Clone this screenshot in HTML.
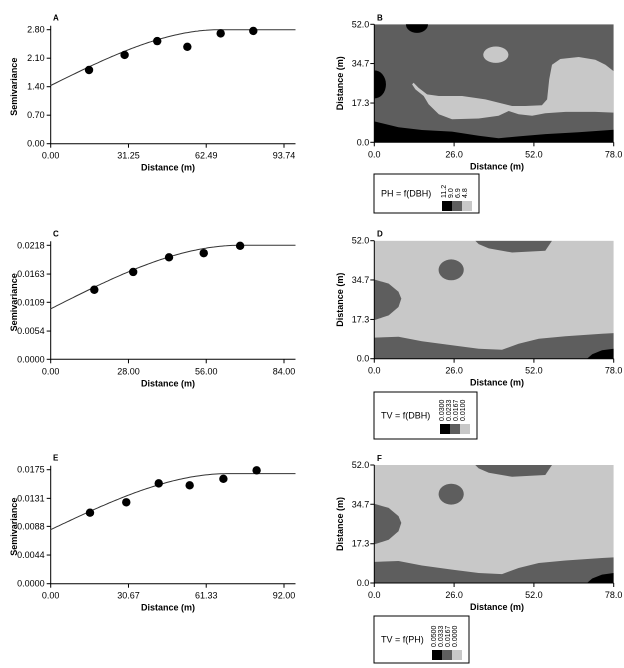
<!DOCTYPE html>
<html><head><meta charset="utf-8">
<style>
html,body{margin:0;padding:0;background:#fff;}
svg{display:block;font-family:"Liberation Sans Narrow","Liberation Sans",sans-serif;}
</style></head>
<body>
<svg id="fig" width="624" height="668" viewBox="0 0 624 668" xmlns="http://www.w3.org/2000/svg"></svg>
<script>
// ---- Variogram data ----
const aDist = [15.4, 29.7, 42.8, 54.9, 68.3, 81.4];
const aVals = [1.81, 2.18, 2.52, 2.38, 2.71, 2.77];
const aTicksX = ["0.00","31.25","62.49","93.74"];
const aTicksY = ["0.00","0.70","1.40","2.10","2.80"];
const aModel = [1.43, 2.80, 68];   // nugget, sill, range

const cDist = [15.7, 29.7, 42.6, 55.1, 68.2];
const cVals = [0.0133, 0.0167, 0.0195, 0.0203, 0.0217];
const cTicksX = ["0.00","28.00","56.00","84.00"];
const cTicksY = ["0.0000","0.0054","0.0109","0.0163","0.0218"];
const cModel = [0.00965, 0.0218, 68];

const eDist = [15.5, 29.8, 42.6, 54.8, 68.1, 81.2];
const eVals = [0.0109, 0.0125, 0.0154, 0.0151, 0.0161, 0.0174];
const eTicksX = ["0.00","30.67","61.33","92.00"];
const eTicksY = ["0.0000","0.0044","0.0088","0.0131","0.0175"];
const eModel = [0.0083, 0.0169, 70];

// ---- Map data (x 0..78 m, y 0..52 m) ----
const mapTicksX = ["0.0","26.0","52.0","78.0"];
const mapTicksY = ["0.0","17.3","34.7","52.0"];
const bBlackBottom = [[0,9.2],[7.9,6.6],[15.5,5.4],[25.3,4.7],[34,2.9],[40.5,1.75],[47,2.6],[55.7,3.6],[66.5,4.4],[78,5.5],[78,0],[0,0]];
const bLightBig = [[12.8,26.2],[14.4,24.0],[17.2,21.1],[21.0,20.4],[28.6,20.4],[36.2,18.9],[44.9,16.0],[49.2,16.0],[54.6,16.3],[56.3,18.9],[57.0,27.7],[57.9,34.2],[60.6,36.7],[66.6,37.6],[72.0,36.4],[75.3,34.2],[78,31.3],[78,13.1],[72.0,13.4],[62.3,13.4],[55.7,12.8],[51.4,11.7],[47.0,12.4],[43.8,13.8],[40.5,11.7],[34.0,10.5],[25.3,10.2],[21.0,12.4],[17.7,16.8],[16.1,20.4],[13.4,23.3],[12.3,25.5]];
const bEllipses = [[13.9,52,3.6,3.8,"#000"],[0,25.5,3.8,6.2,"#000"],[39.6,38.6,4.1,3.6,"#c8c8c8"]];
const dDarkBottom = [[0,9.3],[7.9,9.7],[15.5,7.7],[25.3,5.9],[34,4.4],[41.6,3.9],[47,6.6],[53.6,8.8],[62.3,9.9],[74.2,11.0],[78,11.3],[78,0],[0,0]];
const dBlackCorner = [[69.3,0],[71,2],[74.2,3.7],[78,4.4],[78,0]];
const dDarkLeft = [[0,34.9],[4.7,33.1],[7.9,29.5],[8.8,26.5],[7.9,22.8],[4.7,19.1],[0,17]];
const dDarkBlob = [25.05, 39.15, 4.1, 4.6];
const dDarkTop = [[32.9,52],[57.9,52],[55.7,47.6],[44.9,46.8],[37.3,48.6],[34,50.5]];

const legB = ["11.2","9.0","6.9","4.8"];
const legD = ["0.0300","0.0233","0.0167","0.0100"];
const legF = ["0.0500","0.0333","0.0167","0.0000"];

const NS = "http://www.w3.org/2000/svg";
const svg = document.getElementById("fig");
function mk(tag, attrs, parent, text){
  const el = document.createElementNS(NS, tag);
  for (const k in attrs) el.setAttribute(k, attrs[k]);
  if (text !== undefined) el.textContent = text;
  (parent || svg).appendChild(el);
  return el;
}
function linScale(d0,d1,r0,r1){ return v => r0 + (v-d0)/(d1-d0)*(r1-r0); }

function variogram(id, letter, dist, vals, ticksX, ticksY, model, top){
  const g = mk("g", {});
  
  
  const x0 = 50.7, x1 = 284, xEnd = 295.5, yTop = top, yBot = top + 114;
  const xmax = parseFloat(ticksX[ticksX.length-1]);
  const ymax = parseFloat(ticksY[ticksY.length-1]);
  const sx = linScale(0, xmax, x0, x1), sy = linScale(0, ymax, yBot, yTop);
  const ax = mk("path", {d:`M${x0},${yTop-4}V${yBot}H${xEnd}`, stroke:"#000", fill:"none", "stroke-width":1}, g);
  
  
  ticksY.forEach(t => {
    const y = sy(parseFloat(t));
    mk("line", {x1:x0-4, x2:x0, y1:y, y2:y, stroke:"#000"}, g);
    const tl = mk("text", {x:x0-6, y:y+3, "font-size":9, "text-anchor":"end"}, g, t);
    
    
  });
  ticksX.forEach(t => {
    const x = sx(parseFloat(t));
    mk("line", {x1:x, x2:x, y1:yBot, y2:yBot+4, stroke:"#000"}, g);
    const tl = mk("text", {x:x, y:yBot+15, "font-size":9, "text-anchor":"middle"}, g, t);
    
    
  });
  const xt = mk("text", {x:168, y:yBot+27, "font-size":9, "font-weight":"bold", "text-anchor":"middle"}, g, "Distance (m)");
  
  
  const yt = mk("text", {x:0, y:0, "font-size":9, "font-weight":"bold", "text-anchor":"middle", transform:`translate(17,${(yTop+yBot)/2}) rotate(-90)`}, g, "Semivariance");
  
  
  const pl = mk("text", {x:53, y:yTop-9, "font-size":8, "font-weight":"bold"}, g, letter);
  
  
  const [c0, sill, a] = model;
  let d = "";
  for (let i = 0; i <= 120; i++){
    const h = xmax * 1.05 * i / 120;
    const r = Math.min(h/a, 1);
    const v = c0 + (sill-c0)*(1.5*r - 0.5*r*r*r);
    const px = Math.min(sx(h), xEnd);
    d += (i ? "L" : "M") + px.toFixed(1) + "," + sy(v).toFixed(1);
  }
  const cv = mk("path", {d, fill:"none", stroke:"#333", "stroke-width":1}, g);
  
  
  dist.forEach((h, i) => {
    const c = mk("circle", {cx:sx(h), cy:sy(vals[i]), r:4.2, fill:"#000"}, g);
    
    
  });
}

function mapPanel(id, letter, top, shapes, legTitle, legLabels, legBox){
  const g = mk("g", {});
  
  
  const x0 = 374.3, x1 = 613.7, yTop = top, yBot = top + 118;
  const sx = linScale(0, 78, x0, x1), sy = linScale(0, 52, yBot, yTop);
  const clipId = "clip" + id;
  const cp = mk("clipPath", {id:clipId}, g);
  mk("rect", {x:x0, y:yTop, width:x1-x0, height:yBot-yTop}, cp);
  const inner = mk("g", {"clip-path":`url(#${clipId})`}, g);
  const bg = mk("rect", {x:x0, y:yTop, width:x1-x0, height:yBot-yTop, fill:shapes.bg}, inner);
  
  
  shapes.polys.forEach(p => {
    const pts = p[0].map(q => sx(q[0]).toFixed(1) + "," + sy(q[1]).toFixed(1)).join(" ");
    const pg = mk("polygon", {points:pts, fill:p[1], "stroke-linejoin":"round"}, inner);
    
    
  });
  shapes.ells.forEach(e => {
    const el = mk("ellipse", {cx:sx(e[0]), cy:sy(e[1]), rx:sx(e[2])-sx(0), ry:sy(0)-sy(e[3]), fill:e[4]}, inner);
    
    
  });
  const ax = mk("path", {d:`M${x0},${yTop}V${yBot}H${x1}`, stroke:"#000", fill:"none"}, g);
  
  
  mapTicksY.forEach(t => {
    const y = sy(parseFloat(t));
    mk("line", {x1:x0-4, x2:x0, y1:y, y2:y, stroke:"#000"}, g);
    const tl = mk("text", {x:x0-5, y:y+3, "font-size":9, "text-anchor":"end"}, g, t);
    
    
  });
  mapTicksX.forEach(t => {
    const x = sx(parseFloat(t));
    mk("line", {x1:x, x2:x, y1:yBot, y2:yBot+4, stroke:"#000"}, g);
    const tl = mk("text", {x:x, y:yBot+15, "font-size":9, "text-anchor":"middle"}, g, t);
    
    
  });
  const xt = mk("text", {x:497, y:yBot+27, "font-size":9, "font-weight":"bold", "text-anchor":"middle"}, g, "Distance (m)");
  
  
  const yt = mk("text", {x:0, y:0, "font-size":9, "font-weight":"bold", "text-anchor":"middle", transform:`translate(343,${(yTop+yBot)/2}) rotate(-90)`}, g, "Distance (m)");
  
  
  const pl = mk("text", {x:377, y:yTop-4, "font-size":8, "font-weight":"bold"}, g, letter);
  
  
  const [bx, by, bw, bh, swx, swy] = legBox;
  const lg = mk("g", {}, g);
  
  
  mk("rect", {x:bx, y:by, width:bw, height:bh, fill:"#fff", stroke:"#000"}, lg);
  const lt = mk("text", {x:bx+7, y:by+bh/2+3, "font-size":9}, lg, legTitle);
  
  
  const cols = ["#000", "#5e5e5e", "#c8c8c8"];
  cols.forEach((c, i) => {
    const sw = mk("rect", {x:swx + i*10, y:swy, width:10, height:10, fill:c}, lg);
    
    
  });
  legLabels.forEach((t, i) => {
    const lx = swx + 4 + i*7;
    const tl = mk("text", {x:0, y:0, "font-size":7, transform:`translate(${lx},${swy-3}) rotate(-90)`}, lg, t);
    
    
  });
}

variogram("a", "A", aDist, aVals, aTicksX, aTicksY, aModel, 29.7);
variogram("c", "C", cDist, cVals, cTicksX, cTicksY, cModel, 245.3);
variogram("e", "E", eDist, eVals, eTicksX, eTicksY, eModel, 469.7);

const DARK = "#5e5e5e", LIGHT = "#c8c8c8";
mapPanel("b", "B", 24.3, {bg:DARK, polys:[[bBlackBottom,"#000"],[bLightBig,LIGHT]], ells:bEllipses},
  "PH = f(DBH)", legB, [374, 174, 105, 39, 442, 201]);
const dShapes = {bg:LIGHT, polys:[[dDarkBottom,DARK],[dBlackCorner,"#000"],[dDarkLeft,DARK],[dDarkTop,DARK]], ells:[[dDarkBlob[0],dDarkBlob[1],dDarkBlob[2],dDarkBlob[3],DARK]]};
mapPanel("d", "D", 240.7, dShapes, "TV = f(DBH)", legD, [374, 392, 103, 47, 440, 424]);
mapPanel("f", "F", 465, dShapes, "TV = f(PH)", legF, [374, 616, 95, 47, 432, 650]);
</script>
</body></html>
